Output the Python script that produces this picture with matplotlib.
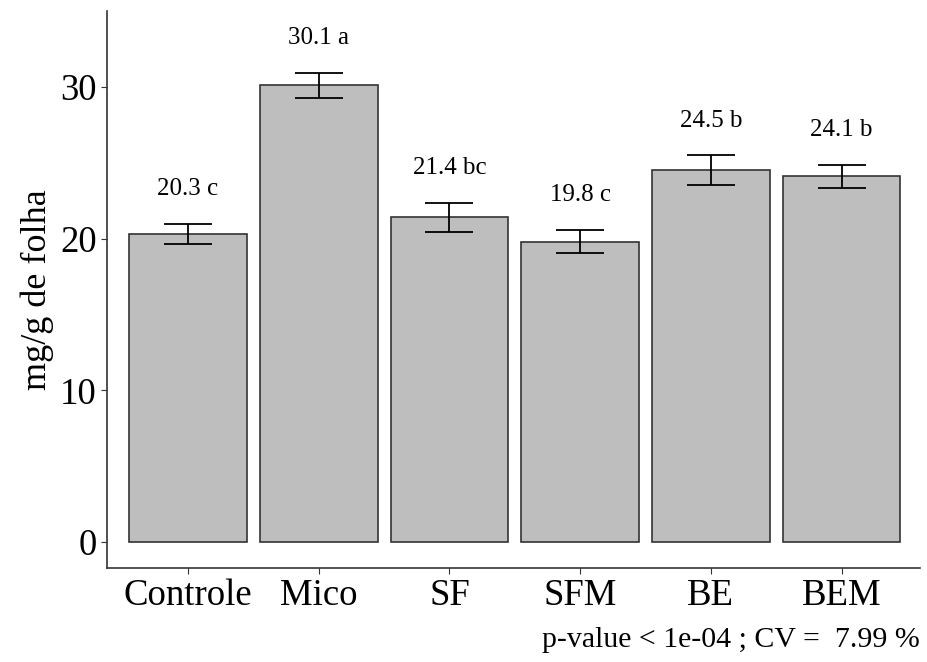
import matplotlib.pyplot as plt

plt.rcParams["font.family"] = ["Liberation Serif", "DejaVu Serif"]

treatments = ["Controle", "Mico", "SF", "SFM", "BE", "BEM"]
means = [20.3, 30.1, 21.4, 19.8, 24.5, 24.1]
errors = [0.68, 0.83, 0.93, 0.77, 0.98, 0.73]
groups = ["c", "a", "bc", "c", "b", "b"]
caption = "p-value < 1e-04 ; CV =  7.99 %"


def main() -> None:
    fig = plt.figure(figsize=(9.27, 6.62), dpi=100)
    ax = fig.add_axes([107 / 927, 94 / 662, 813 / 927, 557 / 662])

    x = list(range(1, len(treatments) + 1))
    ax.bar(x, means, width=0.9, color="#bebebe", edgecolor="#333333", linewidth=1.2, zorder=2)
    ax.errorbar(x, means, yerr=errors, fmt="none", ecolor="black", elinewidth=1.3,
                capsize=17, capthick=1.3, zorder=3)

    for xi, m, e, g in zip(x, means, errors, groups):
        ax.text(xi, m + e + 2.3, f"{m:.1f} {g}", ha="center", va="center", fontsize=18)

    ax.set_xlim(0.38, 6.6)
    ax.set_ylim(-1.7, 35)
    ax.set_xticks(x)
    ax.set_xticklabels(treatments)
    ax.set_yticks([0, 10, 20, 30])
    ax.tick_params(axis="both", labelsize=26.5, colors="#333333", labelcolor="black",
                   length=4, width=0.8)
    ax.set_ylabel("mg/g de folha", fontsize=26, labelpad=4)

    for side in ("top", "right"):
        ax.spines[side].set_visible(False)
    for side in ("left", "bottom"):
        ax.spines[side].set_color("#333333")
        ax.spines[side].set_linewidth(1.2)

    fig.text(920 / 927, 1 - 640 / 662, caption, ha="right", va="center", fontsize=21.5)

    fig.savefig("out.png", dpi=100)


if __name__ == "__main__":
    main()
